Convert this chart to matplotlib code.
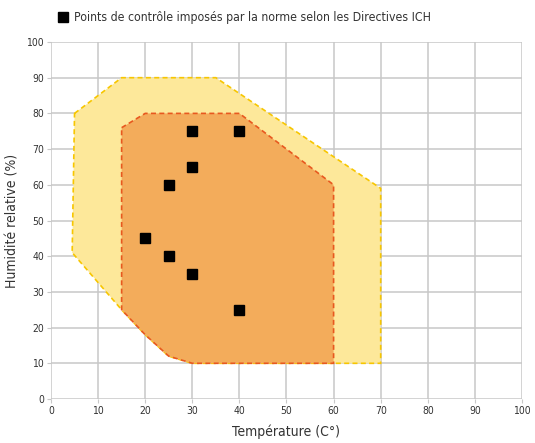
import matplotlib.pyplot as plt
from matplotlib.patches import Polygon
from matplotlib.lines import Line2D

plt.rcParams['font.family'] = ['DejaVu Sans']
plt.rcParams['font.stretch'] = 'condensed'

# zone of tolerance (yellow) and zone imposed (orange)
outer_temp = [5, 15, 35, 70, 70, 30, 25, 20, 15, 4.5]
outer_hum = [80, 90, 90, 59, 10, 10, 12, 18, 25, 41]
inner_temp = [15, 20, 40, 60, 60, 30, 25, 20, 15]
inner_hum = [76, 80, 80, 60, 10, 10, 12, 18, 25]

# control points
pts_temp = [30, 40, 30, 25, 20, 25, 30, 40]
pts_hum = [75, 75, 65, 60, 45, 40, 35, 25]

legend_label = "Points de contrôle imposés par la norme selon les Directives ICH"

fig = plt.figure(figsize=(5.35, 4.43), dpi=100)
ax = fig.add_axes([0.0953, 0.0993, 0.8804, 0.8059])

ax.add_patch(Polygon(list(zip(outer_temp, outer_hum)), closed=True,
                     facecolor='#fde89a', edgecolor='#f7c600', lw=1.2, ls=(0, (3, 2)), zorder=2))
ax.add_patch(Polygon(list(zip(inner_temp, inner_hum)), closed=True,
                     facecolor='#f3ac5b', edgecolor='#e8581f', lw=1.2, ls=(0, (3, 2)), zorder=3))

ax.plot(pts_temp, pts_hum, 's', color='black', ms=7.5, ls='none', zorder=4)

ax.set_xlim(0, 100)
ax.set_ylim(0, 100)
ax.set_xticks(range(0, 101, 10))
ax.set_yticks(range(0, 101, 10))
ax.grid(True, color='#c8c8c8', lw=1.1, zorder=0)
ax.set_axisbelow(True)
for s in ax.spines.values():
    s.set_visible(False)
ax.tick_params(length=3, color='#c8c8c8', labelsize=7.5, labelcolor='#333333', pad=2)

ax.set_xlabel("Température (C°)", fontsize=10, color='#333333', labelpad=6)
ax.set_ylabel("Humidité relative (%)", fontsize=10, color='#333333', labelpad=5)

h = Line2D([], [], marker='s', color='black', ls='none', ms=7.5)
fig.legend([h], [legend_label], loc='center left', bbox_to_anchor=(0.085, 0.96),
           frameon=False, fontsize=8.8, handletextpad=0.4, handlelength=1.0,
           labelcolor='#333333')

fig.savefig("out.png", dpi=100)
